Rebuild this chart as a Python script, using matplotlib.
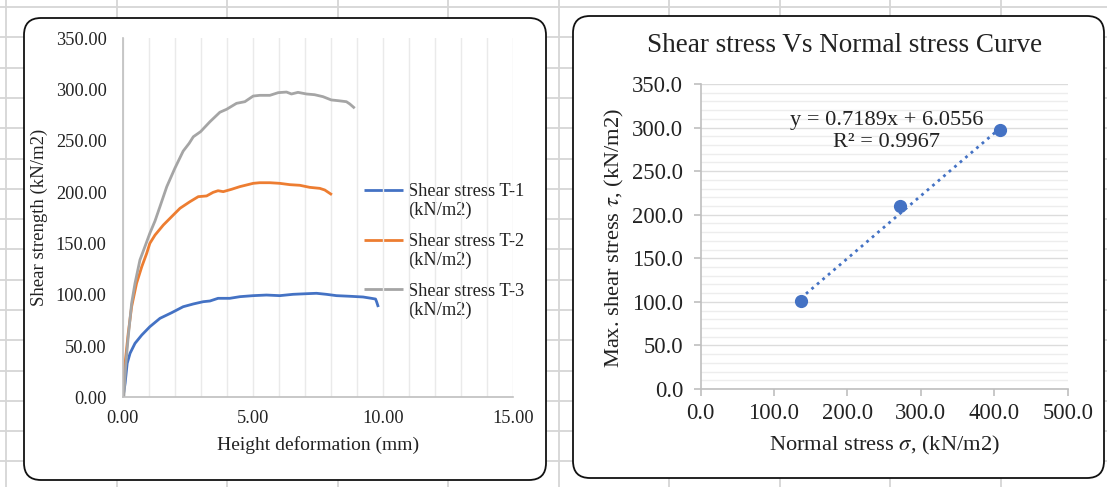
import numpy as np
import matplotlib
matplotlib.use("Agg")
import matplotlib.pyplot as plt
from matplotlib.patches import FancyBboxPatch
from matplotlib.ticker import MultipleLocator, FormatStrFormatter

plt.rcParams['font.family'] = ['Liberation Serif', 'DejaVu Serif']
plt.rcParams['mathtext.fontset'] = 'stix'

# ---- Direct shear test: shear stress vs height deformation ----
t1_deform = [0.00, 0.05, 0.10, 0.18, 0.29, 0.48, 0.74, 1.05, 1.44, 1.89, 2.33, 2.72,
             3.10, 3.36, 3.67, 4.12, 4.51, 5.02, 5.53, 6.04, 6.55, 7.07, 7.45, 7.83,
             8.22, 8.73, 9.24, 9.56, 9.72, 9.76, 9.81]
t1_stress = [0.0, 5.0, 13.6, 33.1, 42.9, 52.6, 60.7, 68.8, 77.0, 82.5, 88.3, 91.0,
             93.2, 93.9, 96.5, 96.5, 98.1, 99.1, 99.7, 99.1, 100.4, 101.0, 101.4, 100.4,
             99.1, 98.5, 97.8, 96.5, 95.8, 93.2, 89.3]

t2_deform = [0.00, 0.10, 0.22, 0.35, 0.54, 0.74, 0.93, 1.05, 1.25, 1.57, 1.95, 2.21,
             2.59, 2.91, 3.23, 3.48, 3.67, 3.87, 4.19, 4.51, 5.02, 5.27, 5.66, 6.04,
             6.43, 6.81, 7.19, 7.58, 7.77, 8.00]
t2_stress = [0.0, 33.1, 62.4, 88.3, 111.1, 127.3, 140.4, 150.1, 158.2, 168.0, 177.7, 184.3,
             190.7, 195.6, 196.3, 199.8, 201.4, 200.5, 202.8, 205.4, 208.6, 209.2, 209.2, 208.6,
             207.3, 206.7, 204.7, 203.7, 202.1, 198.2]

t3_deform = [0.05, 0.12, 0.22, 0.35, 0.48, 0.67, 0.86, 1.05, 1.25, 1.44, 1.70, 2.01,
             2.33, 2.56, 2.72, 3.00, 3.36, 3.74, 4.00, 4.38, 4.70, 5.02, 5.27, 5.66,
             5.98, 6.30, 6.49, 6.74, 7.07, 7.38, 7.70, 8.02, 8.28, 8.60, 8.73, 8.88]
t3_stress = [0.0, 30.0, 59.1, 91.6, 111.1, 133.9, 146.8, 159.9, 172.0, 186.0, 205.3, 223.2,
             240.0, 247.6, 254.0, 259.0, 268.7, 277.9, 280.8, 286.6, 288.2, 293.7, 294.4, 294.4,
             297.0, 297.6, 295.7, 297.3, 295.7, 295.0, 293.1, 289.9, 289.2, 288.2, 286.0, 282.7]

series_labels = ["Shear stress T-1\n(kN/m2)", "Shear stress T-2\n(kN/m2)", "Shear stress T-3\n(kN/m2)"]
series_colors = ["#4472C4", "#ED7D31", "#A5A5A5"]

# ---- Failure envelope ----
normal_stress = [136.1, 272.2, 408.3]
max_shear = [100.7, 209.6, 296.8]
fit_slope = 0.7189
fit_intercept = 6.0556
fit_r2 = 0.9967

W, H = 1107, 487
fig = plt.figure(figsize=(W / 100, H / 100), dpi=100)

# worksheet backdrop in pixel coordinates
bg = fig.add_axes([0, 0, 1, 1], zorder=0)
bg.set_xlim(0, W)
bg.set_ylim(H, 0)
bg.axis('off')
sheet_grid = '#D6D6D6'
for gx in np.arange(6, W, 110.5):
    bg.plot([gx, gx], [0, H], color=sheet_grid, lw=1.3, solid_capstyle='butt')
for gy in np.arange(7, H, 30.3):
    bg.plot([0, W], [gy, gy], color=sheet_grid, lw=1.3, solid_capstyle='butt')

for (x0, y0, x1, y1) in [(24, 18, 546, 480), (573, 16, 1104, 478)]:
    bg.add_patch(FancyBboxPatch((x0, y0), x1 - x0, y1 - y0,
                                boxstyle="round,pad=0,rounding_size=17",
                                fc='white', ec='#111111', lw=1.3, zorder=3))


def px_axes(x0, x1, ytop, ybot):
    a = fig.add_axes([x0 / W, (H - ybot) / H, (x1 - x0) / W, (ybot - ytop) / H], zorder=2)
    a.patch.set_visible(False)
    return a


axis_gray = '#BFBFBF'

# ---------------- left chart ----------------
ax1 = px_axes(122.5, 513, 38.3, 397.3)
for s in ['top', 'right']:
    ax1.spines[s].set_visible(False)
for s in ['left', 'bottom']:
    ax1.spines[s].set_color(axis_gray)
    ax1.spines[s].set_linewidth(1.2)
ax1.set_xlim(0, 15)
ax1.set_ylim(0, 350)
ax1.xaxis.set_major_locator(MultipleLocator(5))
ax1.xaxis.set_minor_locator(MultipleLocator(1))
ax1.yaxis.set_major_locator(MultipleLocator(50))
ax1.xaxis.set_major_formatter(FormatStrFormatter('%.2f'))
ax1.yaxis.set_major_formatter(FormatStrFormatter('%.2f'))
ax1.tick_params(which='both', length=0, labelsize=13.2, colors='#222222')
ax1.tick_params(axis='y', pad=11.5)
ax1.tick_params(axis='x', pad=9)
ax1.grid(axis='x', which='both', color='#EAEAEA', lw=1.0)
ax1.set_axisbelow(True)

curves = [(t1_deform, t1_stress), (t2_deform, t2_stress), (t3_deform, t3_stress)]
for (xd, yd), c in zip(curves, series_colors):
    ax1.plot(xd, yd, color=c, lw=2.0, solid_joinstyle='round')

ax1.set_xlabel("Height deformation (mm)", fontsize=14, va='center', color='#222222')
ax1.xaxis.set_label_coords(0.5, (397.3 - 445) / 359)
ax1.set_ylabel("Shear strength (kN/m2)", fontsize=13.5, va='center', color='#222222')
ax1.yaxis.set_label_coords((39 - 122.5) / 390.5, 0.5)

# legend drawn in pixel space
for i, (lab, c) in enumerate(zip(series_labels, series_colors)):
    ly = 190 + 49.7 * i
    bg.plot([363.6, 403], [ly, ly], color=c, lw=2.0, zorder=5, solid_capstyle='butt')
    bg.text(408, ly - 6.5, lab, fontsize=13.2, va='top', ha='left',
            linespacing=1.1, color='#222222', zorder=5)

# ---------------- right chart ----------------
ax2 = px_axes(700.6, 1067.7, 84, 389)
for s in ['top', 'right']:
    ax2.spines[s].set_visible(False)
for s in ['left', 'bottom']:
    ax2.spines[s].set_color(axis_gray)
    ax2.spines[s].set_linewidth(1.2)
ax2.set_xlim(0, 500)
ax2.set_ylim(0, 350)
ax2.xaxis.set_major_locator(MultipleLocator(100))
ax2.yaxis.set_major_locator(MultipleLocator(50))
ax2.yaxis.set_minor_locator(MultipleLocator(10))
ax2.xaxis.set_major_formatter(FormatStrFormatter('%.1f'))
ax2.yaxis.set_major_formatter(FormatStrFormatter('%.1f'))
ax2.tick_params(which='major', length=5, width=1.2, color=axis_gray,
                labelsize=16.3, labelcolor='#222222')
ax2.tick_params(which='minor', length=0)
ax2.tick_params(axis='y', pad=7.5)
ax2.tick_params(axis='x', pad=5)
ax2.grid(axis='y', which='major', color='#DCDCDC', lw=1.0)
ax2.grid(axis='y', which='minor', color='#EDEDED', lw=1.0)
ax2.set_axisbelow(True)

fit_x = np.array([min(normal_stress), max(normal_stress)])
ax2.plot(fit_x, fit_slope * fit_x + fit_intercept, color='#4472C4', lw=2.0,
         ls=(0, (1, 1.6)), zorder=3)
ax2.plot(normal_stress, max_shear, 'o', color='#4472C4', ms=8.5, zorder=4)

ax2.text(253, 296, f"y = {fit_slope}x + {fit_intercept}\nR\u00b2 = {fit_r2}",
         ha='center', va='center', fontsize=16.1, linespacing=1.22,
         color='#222222', multialignment='center')

ax2.set_xlabel(r"Normal stress $\sigma$, (kN/m2)", fontsize=16.2, va='center', color='#222222')
ax2.xaxis.set_label_coords(0.5, (389 - 445) / 305)
ax2.set_ylabel(r"Max. shear stress $\tau$, (kN/m2)", fontsize=16.2, va='center', color='#222222')
ax2.yaxis.set_label_coords((614 - 700.6) / 367.1, (389 - 237.5) / 305)

fig.text(845 / W, 1 - 46 / H, "Shear stress Vs Normal stress Curve",
         ha='center', va='center', fontsize=19.5, color='#222222')

fig.savefig("out.png", dpi=100)
